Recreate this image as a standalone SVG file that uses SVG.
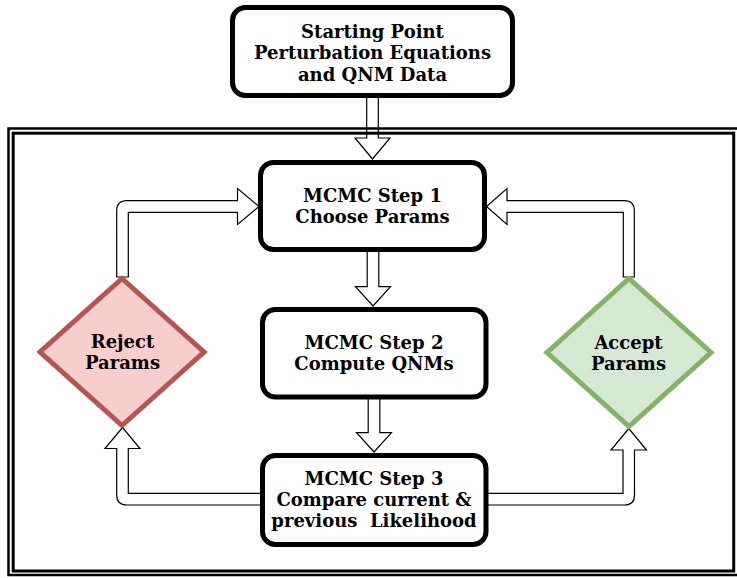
<svg xmlns="http://www.w3.org/2000/svg" width="737" height="578" viewBox="0 0 737 578">
<style>
.box{fill:#ffffff;stroke:#000000;stroke-width:5}
.arr{fill:#ffffff;stroke:#000000;stroke-width:1.2;stroke-linejoin:miter}
.t{font-family:"DejaVu Serif",serif;font-weight:bold;font-size:18px;fill:#000000;text-anchor:middle}
.frame{fill:none;stroke:#000000}
</style>
<rect width="737" height="578" fill="#ffffff"/>
<g id="connectors">
<path class="arr" d="M366.7,96 L366.7,138 L355,138 L372.5,159 L390,138 L378.3,138 L378.3,96 Z"/>
<path class="arr" d="M367.2,250 L367.2,286.7 L355.5,286.7 L373,306 L390.5,286.7 L378.8,286.7 L378.8,250 Z"/>
<path class="arr" d="M368.2,398 L368.2,432.7 L356.5,432.7 L374,452 L391.5,432.7 L379.8,432.7 L379.8,398 Z"/>
<path class="arr" d="M116.7,277 L116.7,210.7 Q116.7,200.7 126.7,200.7 L237.5,200.7 L237.5,188.5 L259,206.5 L237.5,224.5 L237.5,212.3 L128.3,212.3 L128.3,277 Z"/>
<path class="arr" d="M634.3,277 L634.3,210.7 Q634.3,200.7 624.3,200.7 L507,200.7 L507,188.5 L486.5,206.5 L507,224.5 L507,212.3 L623.3,212.3 L623.3,277 Z"/>
<path class="arr" d="M262,493.3 L128.3,493.3 L128.3,448.5 L140,448.5 L122.5,427.5 L105,448.5 L116.7,448.5 L116.7,495 Q116.7,505 126.7,505 L262,505 Z"/>
<path class="arr" d="M486,493.3 L623,493.3 L623,450 L611,450 L628.8,428.5 L646.5,450 L634.5,450 L634.5,495 Q634.5,505 624.5,505 L486,505 Z"/>
</g>
<g id="frame">
<rect class="frame" x="8.5" y="128.5" width="735" height="446.5" stroke-width="2.5"/>
<rect class="frame" x="13.2" y="133.2" width="720.5" height="437.8" stroke-width="3"/>
</g>
<g id="start">
<rect class="box" x="232.5" y="7.5" width="280" height="88" rx="13"/>
<text class="t" x="372.5" y="37.5">Starting Point</text>
<text class="t" x="372.5" y="59">Perturbation Equations</text>
<text class="t" x="372.5" y="80.5">and QNM Data</text>
</g>
<g id="step1">
<rect class="box" x="260.5" y="162.5" width="224" height="87" rx="13"/>
<text class="t" x="372.5" y="202">MCMC Step 1</text>
<text class="t" x="372.5" y="223">Choose Params</text>
</g>
<g id="step2">
<rect class="box" x="262.5" y="309.5" width="223.5" height="87.5" rx="13"/>
<text class="t" x="374" y="349.3">MCMC Step 2</text>
<text class="t" x="374" y="370.3">Compute QNMs</text>
</g>
<g id="step3">
<rect class="box" x="262.5" y="455.5" width="223.5" height="89" rx="13"/>
<text class="t" x="374" y="485">MCMC Step 3</text>
<text class="t" x="374" y="506">Compare current &amp;</text>
<text class="t" x="374" y="527.3" xml:space="preserve">previous  Likelihood</text>
</g>
<g id="reject">
<polygon points="122,278.5 204,352 122,425.5 40,352" fill="#f8cecc" stroke="#b85450" stroke-width="5"/>
<text class="t" x="122.5" y="348.3">Reject</text>
<text class="t" x="122.5" y="369.3">Params</text>
</g>
<g id="accept">
<polygon points="629,278.5 711,352.5 629,426.5 547,352.5" fill="#d5e8d4" stroke="#82b366" stroke-width="5"/>
<text class="t" x="628.5" y="349.3">Accept</text>
<text class="t" x="628.5" y="370.3">Params</text>
</g>
</svg>
